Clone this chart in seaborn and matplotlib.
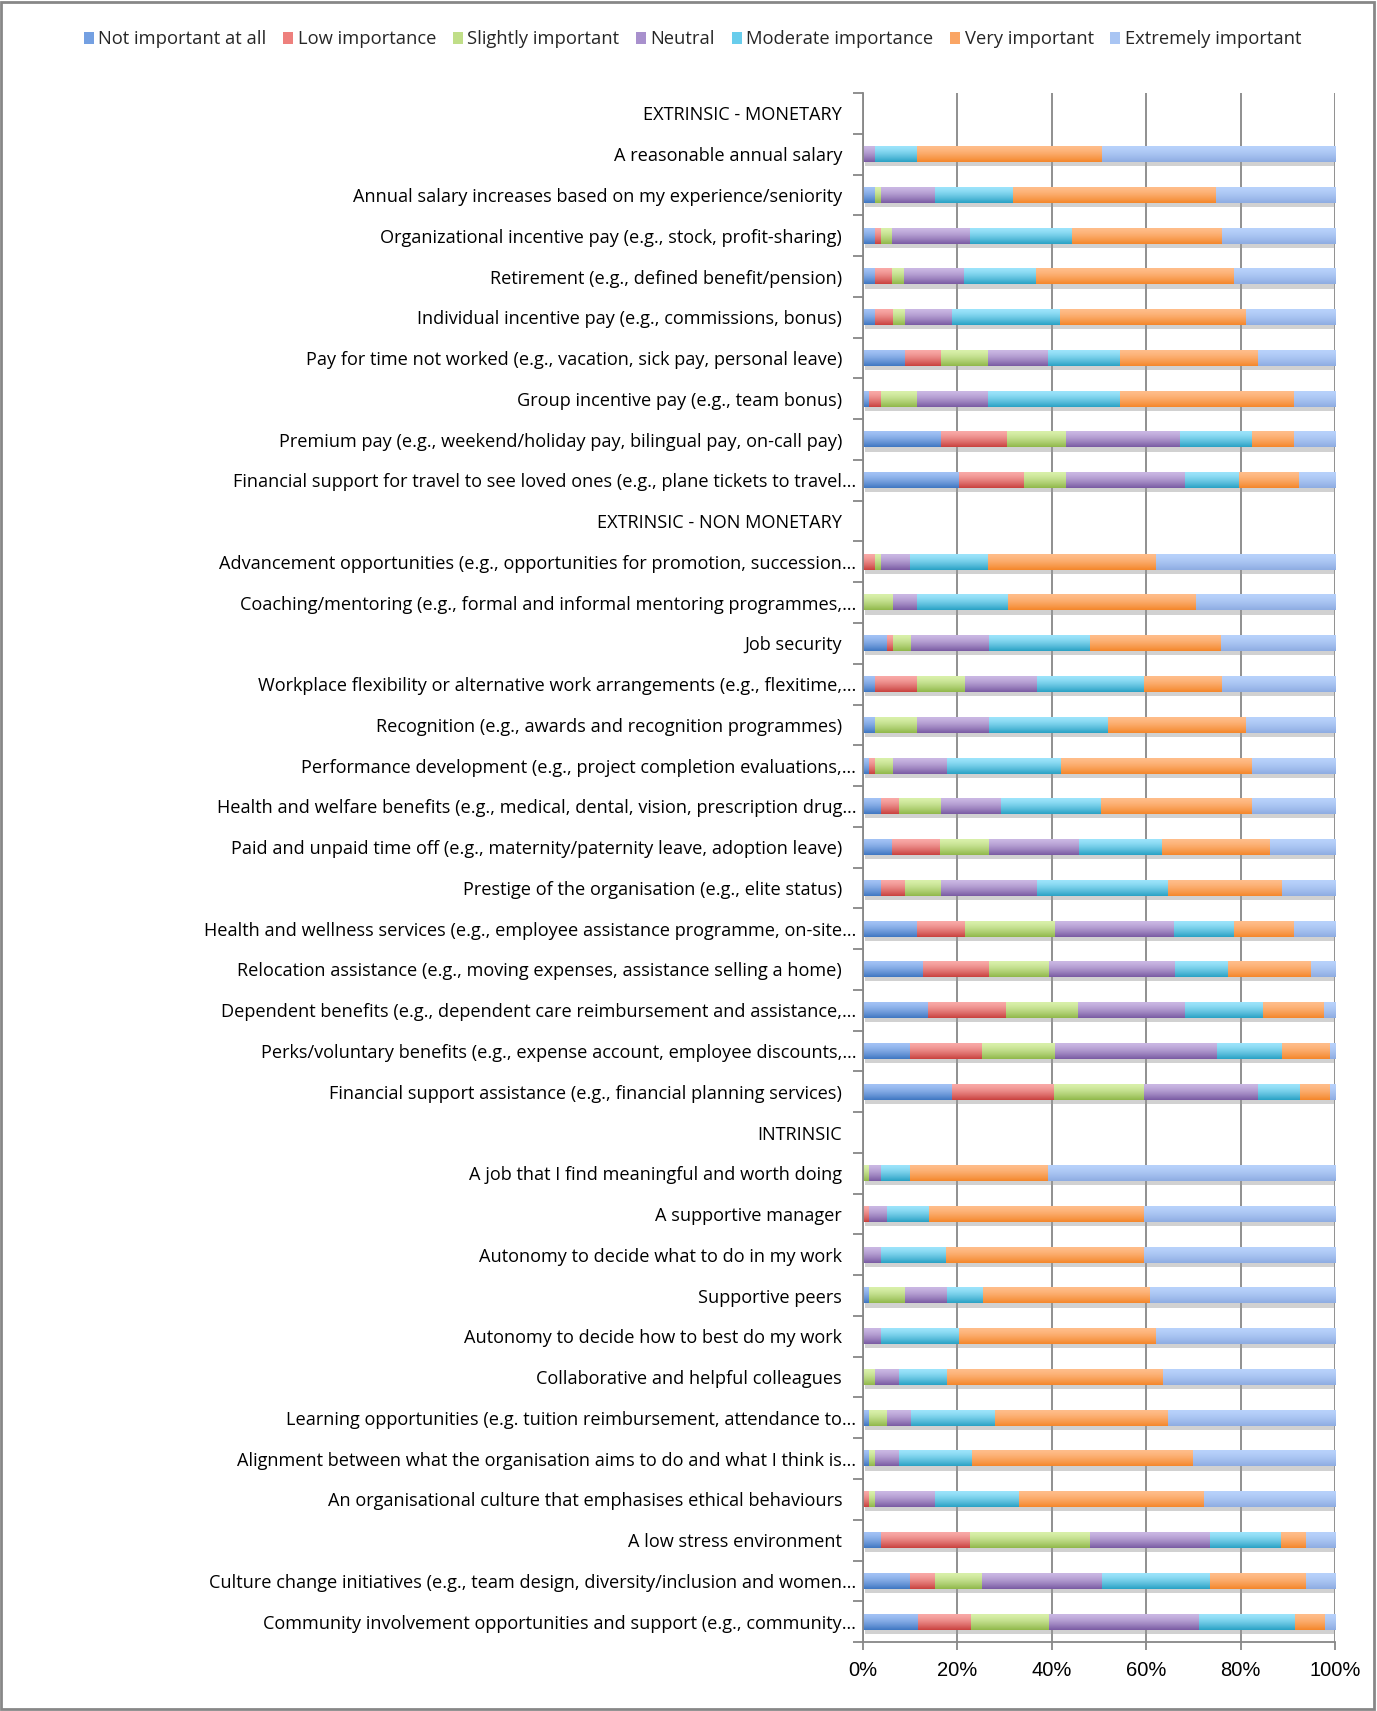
import matplotlib
matplotlib.use("Agg")
import numpy as np
import pandas as pd
import matplotlib.pyplot as plt
import matplotlib.patheffects as pe
from matplotlib.colors import to_rgb
from matplotlib.patches import Patch, Rectangle
from matplotlib.transforms import ScaledTranslation
import seaborn as sns

# items, top to bottom (section headers have no data)
categories = [
    "EXTRINSIC - MONETARY",
    "A reasonable annual salary",
    "Annual salary increases based on my experience/seniority",
    "Organizational incentive pay (e.g., stock, profit-sharing)",
    "Retirement (e.g., defined benefit/pension)",
    "Individual incentive pay (e.g., commissions, bonus)",
    "Pay for time not worked (e.g., vacation, sick pay, personal leave)",
    "Group incentive pay (e.g., team bonus)",
    "Premium pay (e.g., weekend/holiday pay, bilingual pay, on-call pay)",
    "Financial support for travel to see loved ones (e.g., plane tickets to travel…",
    "EXTRINSIC - NON MONETARY",
    "Advancement opportunities (e.g., opportunities for promotion, succession…",
    "Coaching/mentoring (e.g., formal and informal mentoring programmes,…",
    "Job security",
    "Workplace flexibility or alternative work arrangements (e.g., flexitime,…",
    "Recognition (e.g., awards and recognition programmes)",
    "Performance development (e.g., project completion evaluations,…",
    "Health and welfare benefits (e.g., medical, dental, vision, prescription drug…",
    "Paid and unpaid time off (e.g., maternity/paternity leave, adoption leave)",
    "Prestige of the organisation (e.g., elite status)",
    "Health and wellness services (e.g., employee assistance programme, on-site…",
    "Relocation assistance (e.g., moving expenses, assistance selling a home)",
    "Dependent benefits (e.g., dependent care reimbursement and assistance,…",
    "Perks/voluntary benefits (e.g., expense account, employee discounts,…",
    "Financial support assistance (e.g., financial planning services)",
    "INTRINSIC",
    "A job that I find meaningful and worth doing",
    "A supportive manager",
    "Autonomy to decide what to do in my work",
    "Supportive peers",
    "Autonomy to decide how to best do my work",
    "Collaborative and helpful colleagues",
    "Learning opportunities (e.g. tuition reimbursement, attendance to…",
    "Alignment between what the organisation aims to do and what I think is…",
    "An organisational culture that emphasises ethical behaviours",
    "A low stress environment",
    "Culture change initiatives (e.g., team design, diversity/inclusion and women…",
    "Community involvement opportunities and support (e.g., community…",
]

levels = ["Not important at all", "Low importance", "Slightly important", "Neutral",
          "Moderate importance", "Very important", "Extremely important"]

N = None
not_important = [N, 0, 2.5, 2.5, 2.5, 2.5, 8.8, 1.2, 16.5, 20.3,
                 N, 0, 0, 5.0, 2.5, 2.5, 1.2, 3.7, 6.1, 3.7, 11.4, 12.7, 13.6, 9.9, 18.7,
                 N, 0, 0, 0, 1.2, 0, 0, 1.2, 1.2, 0, 3.7, 9.9, 11.5]
low_importance = [N, 0, 0, 1.3, 3.6, 3.8, 7.6, 2.5, 13.8, 13.8,
                  N, 2.5, 0, 1.3, 8.9, 0, 1.3, 3.8, 10.2, 5.1, 10.0, 13.8, 16.6, 15.3, 21.7,
                  N, 0, 1.2, 0, 0, 0, 0, 0, 0, 1.2, 18.9, 5.3, 11.3]
slightly_important = [N, 0, 1.3, 2.3, 2.5, 2.5, 10.0, 7.6, 12.5, 8.9,
                      N, 1.3, 6.3, 3.8, 10.0, 8.9, 3.8, 8.9, 10.2, 7.6, 19.1, 12.7, 15.3, 15.3, 19.1,
                      N, 1.2, 0, 0, 7.6, 0, 2.5, 3.8, 1.3, 1.3, 25.4, 10.0, 16.5]
neutral = [N, 2.5, 11.4, 16.5, 12.7, 10.0, 12.7, 15.1, 24.2, 25.2,
           N, 6.1, 5.1, 16.5, 15.3, 15.1, 11.4, 12.7, 19.1, 20.4, 25.2, 26.7, 22.7, 34.3, 24.0,
           N, 2.5, 3.8, 3.7, 8.9, 3.7, 5.1, 5.1, 5.1, 12.7, 25.4, 25.4, 31.8]
moderate_importance = [N, 8.9, 16.5, 21.6, 15.3, 22.9, 15.3, 28.0, 15.3, 11.4,
                       N, 16.5, 19.2, 21.3, 22.7, 25.4, 24.2, 21.3, 17.6, 27.8, 12.7, 11.4, 16.5, 13.8, 8.9,
                       N, 6.1, 8.9, 13.8, 7.6, 16.5, 10.0, 17.8, 15.3, 17.8, 15.1, 22.9, 20.4]
very_important = [N, 39.1, 43.0, 31.7, 41.9, 39.4, 29.1, 36.7, 8.9, 12.7,
                  N, 35.6, 39.9, 27.8, 16.5, 29.2, 40.4, 31.8, 23.0, 24.0, 12.7, 17.6, 12.9, 10.2, 6.4,
                  N, 29.3, 45.6, 42.0, 35.4, 41.8, 45.8, 36.7, 46.8, 39.2, 5.2, 20.3, 6.3]
extremely_important = [N, 49.5, 25.3, 24.1, 21.5, 18.9, 16.5, 8.9, 8.8, 7.7,
                       N, 38.0, 29.5, 24.3, 24.1, 18.9, 17.7, 17.8, 13.8, 11.4, 8.9, 5.1, 2.4, 1.2, 1.2,
                       N, 60.9, 40.5, 40.5, 39.3, 38.0, 36.6, 35.4, 30.3, 27.8, 6.3, 6.2, 2.2]

xtick_values = [0, 20, 40, 60, 80, 100]
xtick_labels = ["0%", "20%", "40%", "60%", "80%", "100%"]

# excel style fills: light top, darker bottom
colors = ["#74A0E2", "#EE807D", "#C0DE88", "#A890CD", "#68CDEC", "#FAA564", "#A9C5F3"]
tops = ["#A2C2F5", "#F9A9A7", "#D9F0AA", "#CAB7E3", "#9CE4FB", "#FFBD8A", "#B8D2FB"]
bottoms = ["#4077C2", "#C9423F", "#90B84B", "#7A5BA3", "#2AA2C5", "#F4872B", "#8EACE2"]
grey = "#878787"

df = pd.DataFrame({"item": categories})
for name, vals in zip(levels, [not_important, low_importance, slightly_important, neutral,
                               moderate_importance, very_important, extremely_important]):
    df[name] = pd.to_numeric(pd.Series(vals), errors="coerce")
cum = df[levels].cumsum(axis=1)

sns.set_theme(style="white")
plt.rcParams["font.family"] = ["Open Sans", "DejaVu Sans"]

fig = plt.figure(figsize=(13.77, 17.11), dpi=100)
ax = fig.add_axes([0.6267, 0.0403, 0.3428, 0.9053])
ax.set_ylim(len(categories) - 0.5, -0.5)

shadow = [pe.SimplePatchShadow(offset=(1.5, -3), shadow_rgbFace="#999999", alpha=0.45), pe.Normal()]

# overlapping cumulative bars, widest first
for i in range(len(levels) - 1, -1, -1):
    n_before = len(ax.patches)
    extra = {"path_effects": shadow} if i == len(levels) - 1 else {}
    sns.barplot(x=cum[levels[i]].values, y=df["item"].values, order=categories, orient="y",
                color=colors[i], saturation=1, width=0.385, errorbar=None, linewidth=0,
                ax=ax, **extra)
    # vertical gradient laid over each new bar
    t = np.linspace(0, 1, 32)[:, None] ** 1.4
    grad = (1 - t) * np.array(to_rgb(tops[i])) + t * np.array(to_rgb(bottoms[i]))
    grad = grad[:, None, :]
    for p in ax.patches[n_before:]:
        w = p.get_width()
        if not np.isfinite(w) or w <= 0:
            continue
        x0, y0, h = p.get_x(), p.get_y(), p.get_height()
        ax.imshow(grad, extent=[x0, x0 + w, y0 + h, y0], origin="upper", aspect="auto",
                  interpolation="bilinear", zorder=1.5 + (len(levels) - i) * 0.01)

ax.set_xlim(0, 100)
ax.set_ylim(len(categories) - 0.5, -0.5)
ax.set_aspect("auto")
ax.set_xlabel("")
ax.set_ylabel("")
ax.set_xticks(xtick_values)
ax.set_xticklabels(xtick_labels, fontfamily="Liberation Sans", fontsize=14.5)
ax.xaxis.grid(True, color=grey, linewidth=1.3)
ax.yaxis.grid(False)
ax.set_axisbelow(True)

for s in ["top", "right"]:
    ax.spines[s].set_visible(False)
for s in ["left", "bottom"]:
    ax.spines[s].set_color(grey)
    ax.spines[s].set_linewidth(1.3)
    ax.spines[s].set_zorder(3)

ax.tick_params(axis="x", which="major", direction="out", length=6, width=1.3, color=grey,
               bottom=True, pad=8, labelcolor="black")
ax.set_yticks(np.arange(-0.5, len(categories), 1), minor=True)
ax.tick_params(axis="y", which="minor", direction="out", length=7, width=1.3, color=grey, left=True)
ax.tick_params(axis="y", which="major", length=0, pad=15, labelsize=13.1, labelcolor="black")

# Excel lets the truncated labels run a little further right
for lbl in ax.get_yticklabels():
    if lbl.get_text().endswith("…"):
        lbl.set_transform(lbl.get_transform() + ScaledTranslation(0.14, 0, fig.dpi_scale_trans))

handles = [Patch(facecolor=c, edgecolor="none") for c in colors]
fig.legend(handles, levels, loc="center", bbox_to_anchor=(0.503, 0.977), ncol=7, frameon=False,
           fontsize=13.2, handlelength=0.55, handleheight=0.6, handletextpad=0.25,
           columnspacing=0.9, borderaxespad=0)

fig.patches.append(Rectangle((0.001, 0.001), 0.997, 0.998, transform=fig.transFigure,
                             fill=False, edgecolor=grey, linewidth=2))

fig.savefig("out.png", dpi=100)
